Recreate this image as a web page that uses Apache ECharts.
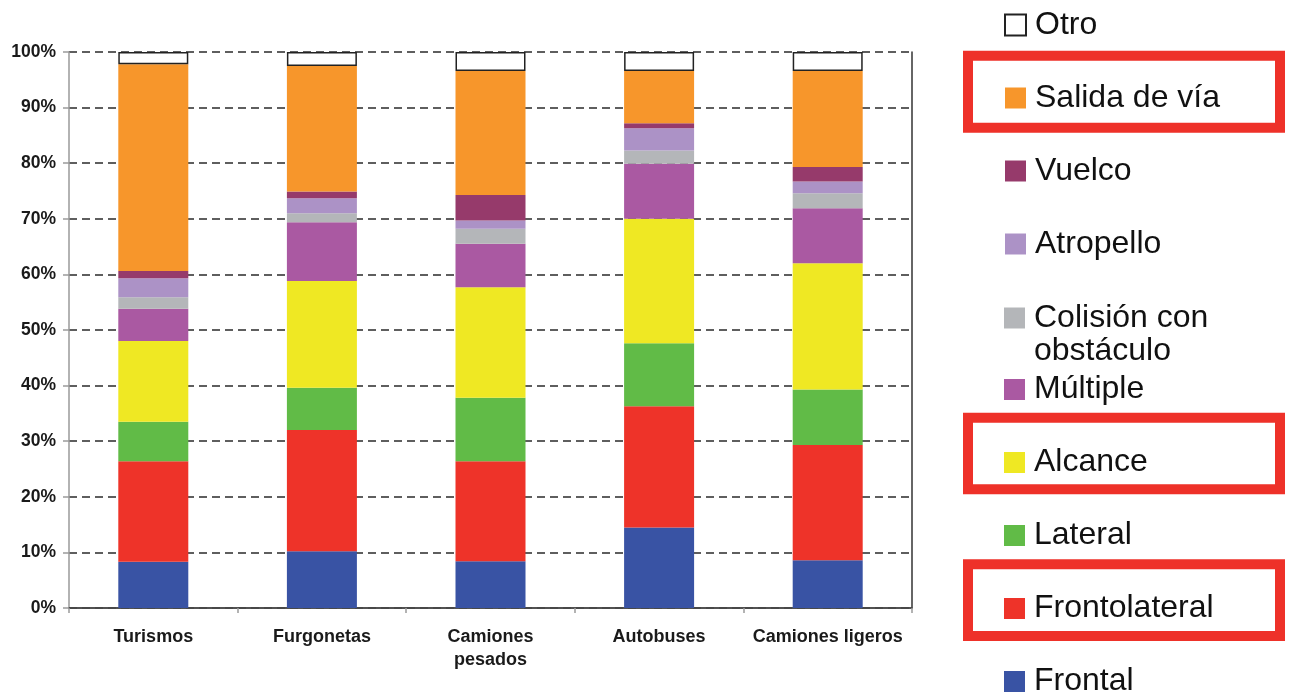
<!DOCTYPE html>
<html>
<head>
<meta charset="utf-8">
<script src="https://cdn.jsdelivr.net/npm/echarts@6/dist/echarts.min.js"></script>
<style>
  html, body { margin: 0; padding: 0; background: #ffffff; }
  #chart { width: 1293px; height: 695px; }
</style>
</head>
<body>
<div id="chart"></div>
<script>
// Vehicle types on the category axis
const categories = ['Turismos', 'Furgonetas', 'Camiones\npesados', 'Autobuses', 'Camiones ligeros'];

// Share of each accident type per vehicle type (%), stacked bottom to top
const frontal       = [8.3, 10.2, 8.4, 14.5, 8.6];
const frontolateral = [18.1, 21.8, 18.0, 21.8, 20.7];
const lateral       = [7.1, 7.6, 11.4, 11.3, 10.0];
const alcance       = [14.5, 19.2, 19.9, 22.4, 22.7];
const multiple      = [5.8, 10.6, 7.8, 9.9, 9.9];
const colision      = [2.1, 1.6, 2.7, 2.4, 2.7];
const atropello     = [3.4, 2.7, 1.5, 4.0, 2.1];
const vuelco        = [1.3, 1.2, 4.6, 0.9, 2.6];
const salidaDeVia   = [37.2, 22.6, 22.3, 9.4, 17.3];
const otro          = [2.2, 2.5, 3.4, 3.4, 3.4];

// Percent axis ticks
const yTicks = [0, 10, 20, 30, 40, 50, 60, 70, 80, 90, 100];

const seriesDefs = [
  { name: 'Frontal',                data: frontal,       color: '#3953A4' },
  { name: 'Frontolateral',          data: frontolateral, color: '#EE3329' },
  { name: 'Lateral',                data: lateral,       color: '#61BB47' },
  { name: 'Alcance',                data: alcance,       color: '#EFE823' },
  { name: 'Múltiple',               data: multiple,      color: '#AA59A2' },
  { name: 'Colisión con obstáculo', data: colision,      color: '#B4B6B9' },
  { name: 'Atropello',              data: atropello,     color: '#AC92C6' },
  { name: 'Vuelco',                 data: vuelco,        color: '#963A6B' },
  { name: 'Salida de vía',          data: salidaDeVia,   color: '#F7962B' },
  { name: 'Otro',                   data: otro,          color: '#FFFFFF', border: '#222222' }
];

const FONT = "'Liberation Sans', Arial, sans-serif";

const legendText = {
  fontFamily: FONT,
  fontSize: 32,
  color: '#111111',
  lineHeight: 33,
  padding: [0, 0, 0, 4]
};

function legendBlock(names, top, formatter) {
  const l = {
    orient: 'vertical',
    left: 1004,
    top: top,
    height: 420,
    padding: 0,
    itemWidth: 21,
    itemHeight: 21,
    itemGap: 40,
    icon: 'rect',
    selectedMode: false,
    textStyle: legendText,
    data: names
  };
  if (formatter) l.formatter = formatter;
  return l;
}

const chart = echarts.init(document.getElementById('chart'), null, { renderer: 'canvas' });

chart.setOption({
  animation: false,
  backgroundColor: '#ffffff',
  grid: { left: 69, right: 381, top: 52, bottom: 87, containLabel: false },
  legend: [
    legendBlock(['Otro', 'Salida de vía', 'Vuelco', 'Atropello'], 8.5),
    legendBlock(['Colisión con obstáculo'], 268.5, function () { return '\nColisión con\nobstáculo'; }),
    legendBlock(['Múltiple', 'Alcance', 'Lateral', 'Frontolateral', 'Frontal'], 373)
  ],
  xAxis: [
    {
      type: 'category',
      data: categories,
      position: 'bottom',
      axisLine: { lineStyle: { color: '#9a9a9a', width: 1.5 } },
      axisTick: { show: true, length: 5, lineStyle: { color: '#9a9a9a', width: 1.5 } },
      axisLabel: {
        fontFamily: FONT, fontSize: 18, fontWeight: 'bold', color: '#1a1a1a',
        margin: 18, lineHeight: 23, interval: 0
      }
    },
    {
      type: 'category',
      data: categories,
      position: 'top',
      axisLine: { lineStyle: { color: '#333333', width: 1.5 } },
      axisTick: { show: false },
      axisLabel: { show: false }
    }
  ],
  yAxis: [
    {
      type: 'value',
      min: yTicks[0],
      max: yTicks[yTicks.length - 1],
      interval: yTicks[1] - yTicks[0],
      axisLine: { show: true, lineStyle: { color: '#9a9a9a', width: 1.5 } },
      axisTick: { show: true, length: 6, lineStyle: { color: '#9a9a9a', width: 1.5 } },
      axisLabel: {
        formatter: '{value}%', fontFamily: FONT, fontSize: 17.5, fontWeight: 'bold',
        color: '#1a1a1a', margin: 13
      },
      splitLine: { show: true, lineStyle: { color: '#2a2a2a', width: 1.6, type: [8, 5] } }
    },
    {
      type: 'value',
      position: 'right',
      min: yTicks[0],
      max: yTicks[yTicks.length - 1],
      interval: yTicks[1] - yTicks[0],
      axisLine: { show: true, lineStyle: { color: '#333333', width: 1.5 } },
      axisTick: { show: false },
      axisLabel: { show: false },
      splitLine: { show: false }
    }
  ],
  series: seriesDefs.map(function (s) {
    return {
      name: s.name,
      type: 'bar',
      stack: 'total',
      barWidth: 70,
      data: s.data,
      itemStyle: s.border
        ? { color: s.color, borderColor: s.border, borderWidth: 1.5 }
        : { color: s.color },
      emphasis: { disabled: true }
    };
  }),
  graphic: [
    // highlight frames around selected legend entries
    { type: 'rect', shape: { x: 968, y: 55.7, width: 312, height: 72 },
      style: { fill: 'none', stroke: '#EE3129', lineWidth: 10 } },
    { type: 'rect', shape: { x: 968, y: 417.7, width: 312, height: 71.6 },
      style: { fill: 'none', stroke: '#EE3129', lineWidth: 10 } },
    { type: 'rect', shape: { x: 968, y: 564.3, width: 312, height: 71.7 },
      style: { fill: 'none', stroke: '#EE3129', lineWidth: 10 } }
  ]
});
</script>
</body>
</html>
